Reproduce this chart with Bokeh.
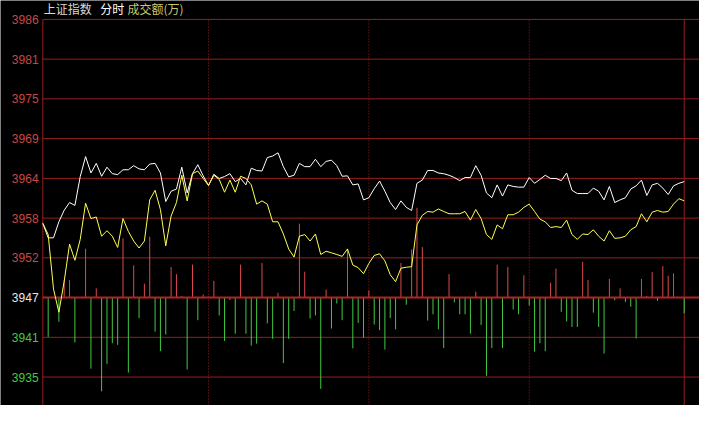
from bokeh.plotting import figure
from bokeh.models import Range1d, ColumnDataSource
from bokeh.core.properties import value
from bokeh.embed import file_html
from bokeh.resources import INLINE

# ---------------- data ----------------
minutes = list(range(0, 242, 2))          # sample time (minutes since open), 121 samples
session_marks = [62, 122, 182]            # dotted separators
session_end = 240

prev_close = 3946.9
tick_values = [3935.5, 3941.2, 3946.9, 3952.6, 3958.3, 3964.0, 3969.7, 3975.4, 3981.1, 3986.8]
tick_labels = ["3935", "3941", "3947", "3952", "3958", "3964", "3969", "3975", "3981", "3986"]

index_price = [
    3957.54, 3955.47, 3955.47, 3957.77, 3959.43, 3960.53, 3960.12, 3964.26, 3967.12, 3964.77,
    3966.15, 3964.30, 3965.60, 3964.67, 3964.54, 3965.23, 3965.23, 3965.82, 3965.36, 3965.23,
    3966.05, 3966.15, 3964.77, 3960.67, 3962.15, 3962.47, 3965.60, 3961.91, 3964.67, 3965.96,
    3964.36, 3962.98, 3964.58, 3963.98, 3964.26, 3964.67, 3963.53, 3963.98, 3963.06, 3965.46,
    3965.13, 3965.05, 3966.98, 3967.20, 3967.67, 3965.68, 3964.22, 3964.44, 3966.15, 3965.68,
    3965.68, 3966.74, 3965.68, 3966.43, 3966.61, 3965.82, 3964.30, 3964.36, 3963.06, 3963.20,
    3960.91, 3961.22, 3962.51, 3963.61, 3962.15, 3960.53, 3959.53, 3960.77, 3959.84, 3959.39,
    3963.29, 3963.75, 3965.13, 3965.13, 3964.77, 3964.67, 3964.44, 3964.12, 3963.67, 3964.12,
    3964.12, 3965.82, 3964.44, 3961.91, 3961.22, 3963.06, 3961.46, 3963.06, 3962.84, 3962.74,
    3962.74, 3964.12, 3963.29, 3963.85, 3964.44, 3963.98, 3963.98, 3963.67, 3964.77, 3962.29,
    3961.82, 3961.82, 3961.82, 3962.60, 3962.15, 3960.91, 3962.84, 3960.53, 3960.91, 3961.22,
    3962.47, 3962.92, 3963.75, 3961.54, 3963.06, 3963.29, 3962.60, 3961.68, 3962.92, 3963.29,
    3963.53]

avg_price = [
    3957.54, 3955.94, 3948.11, 3944.80, 3949.26, 3954.56, 3952.25, 3955.25, 3960.44, 3958.23,
    3958.46, 3955.70, 3956.49, 3955.70, 3954.09, 3958.23, 3956.39, 3955.01, 3954.01, 3955.01,
    3960.91, 3962.29, 3959.53, 3954.32, 3958.60, 3960.53, 3964.44, 3960.77, 3964.67, 3965.05,
    3963.98, 3962.98, 3964.44, 3963.85, 3962.01, 3963.75, 3962.01, 3964.30, 3963.98, 3963.06,
    3960.30, 3960.77, 3960.30, 3957.77, 3957.77, 3956.02, 3953.87, 3952.71, 3955.70, 3955.94,
    3955.01, 3956.02, 3953.08, 3953.54, 3953.32, 3953.08, 3952.81, 3953.87, 3951.56, 3951.19,
    3950.32, 3951.80, 3952.94, 3953.18, 3952.16, 3950.18, 3949.18, 3951.11, 3951.25, 3951.33,
    3957.32, 3958.70, 3959.25, 3959.15, 3959.61, 3959.25, 3958.92, 3958.92, 3958.92, 3959.25,
    3958.01, 3959.53, 3958.23, 3955.94, 3955.25, 3957.32, 3956.77, 3958.78, 3958.78, 3959.15,
    3959.84, 3960.30, 3959.25, 3958.15, 3957.77, 3956.95, 3957.08, 3956.95, 3958.01, 3955.94,
    3955.25, 3956.02, 3955.94, 3956.63, 3955.70, 3955.01, 3956.49, 3955.39, 3955.47, 3955.70,
    3956.63, 3957.08, 3958.92, 3957.77, 3959.15, 3959.39, 3959.15, 3959.25, 3960.30, 3961.09,
    3960.77]

volume = [
    0, -99, 0, -61, 44, 44, -113, 0, 123, -179,
    23, -236, -167, -115, -119, 149, -189, 81, -52, 35,
    153, -86, -135, -93, 77, 59, 4, -181, 83, -57,
    8, 0, 42, -45, -109, -6, -91, 83, -91, -121,
    -116, 87, -65, -104, 12, -165, -104, -34, 186, 65,
    -53, -45, -230, 20, -78, -15, -57, 123, -128, -64,
    -101, 18, -68, -82, -131, -52, -80, 87, -18, 121,
    226, 127, -58, -42, -80, -127, 59, -12, -42, -42,
    -91, 15, -69, -197, -127, 83, -127, 77, -30, -42,
    56, -20, -136, -115, -135, 37, 73, -36, -60, -74,
    -74, 90, 44, -38, -74, -141, 47, -7, 23, -11,
    -23, -103, 47, 4, 64, -8, 79, 55, 61, 0,
    -40]

title_parts = ["上证指数", "分时", "成交额(万)"]

# ---------------- styles ----------------
BG = "#000000"
GRID = "#9a1e1e"
RED_TXT = "#c84848"
GREEN_TXT = "#48c848"
RED_BAR = "#dc4a4a"
GREEN_BAR = "#44c844"
FONT = "Liberation Sans"
CJK = "Noto Sans CJK SC"

X0, X1 = -15.84, 245.72
Y0, Y1 = 3931.42, 3989.51
top = tick_values[-1]

p = figure(width=699, height=405, x_range=Range1d(X0, X1), y_range=Range1d(Y0, Y1),
           output_backend="svg", toolbar_location=None, min_border=0,
           x_axis_location=None, y_axis_location=None,
           background_fill_color=BG, border_fill_color=BG, outline_line_color=None)
p.grid.visible = False
p.extra_y_ranges = {"vol": Range1d(-271.7, 747.7)}

# horizontal grid lines
others = [v for v in tick_values if v != prev_close]
p.segment(x0=[0] * len(others), x1=[X1] * len(others), y0=others, y1=others,
          line_color=GRID, line_width=1)

# vertical frame / separators
p.segment(x0=[0, session_end], x1=[0, session_end], y0=[Y0, Y0], y1=[top, top],
          line_color=GRID, line_width=1)
p.segment(x0=session_marks, x1=session_marks, y0=[Y0] * 3, y1=[top] * 3,
          line_color=GRID, line_width=1, line_dash="1 2")

# volume bars
bar_src = ColumnDataSource(dict(
    t=minutes, v=volume, z=[0] * len(volume),
    c=[RED_BAR if v >= 0 else GREEN_BAR for v in volume]))
p.segment(x0="t", x1="t", y0="z", y1="v", line_color="c", line_width=1,
          source=bar_src, y_range_name="vol")

# previous-close line
p.segment(x0=[0], x1=[X1], y0=[prev_close], y1=[prev_close], line_color="#b02424", line_width=2)

# price lines
p.line(minutes, index_price, line_color="#ffffff", line_width=1)
p.line(minutes, avg_price, line_color="#ffff55", line_width=1)

# y tick labels
lab_colors = [RED_TXT if v > prev_close + 0.01 else (GREEN_TXT if v < prev_close - 0.01 else "#e8e8e8")
              for v in tick_values]
p.text(x=[-1.6] * len(tick_values), y=tick_values, text=tick_labels, text_color=lab_colors,
       text_font=value(FONT), text_font_size="12px", text_align="right", text_baseline="middle")

# header texts
p.text(x=[0.3, 21.5, 31.7], y=[3988.3] * 3, text=title_parts,
       text_color=["#d8d8d8", "#ffffff", "#c8c870"],
       text_font=value(CJK), text_font_size="12px", text_align="left", text_baseline="middle")

open("out.html", "w").write(file_html(p, INLINE))
